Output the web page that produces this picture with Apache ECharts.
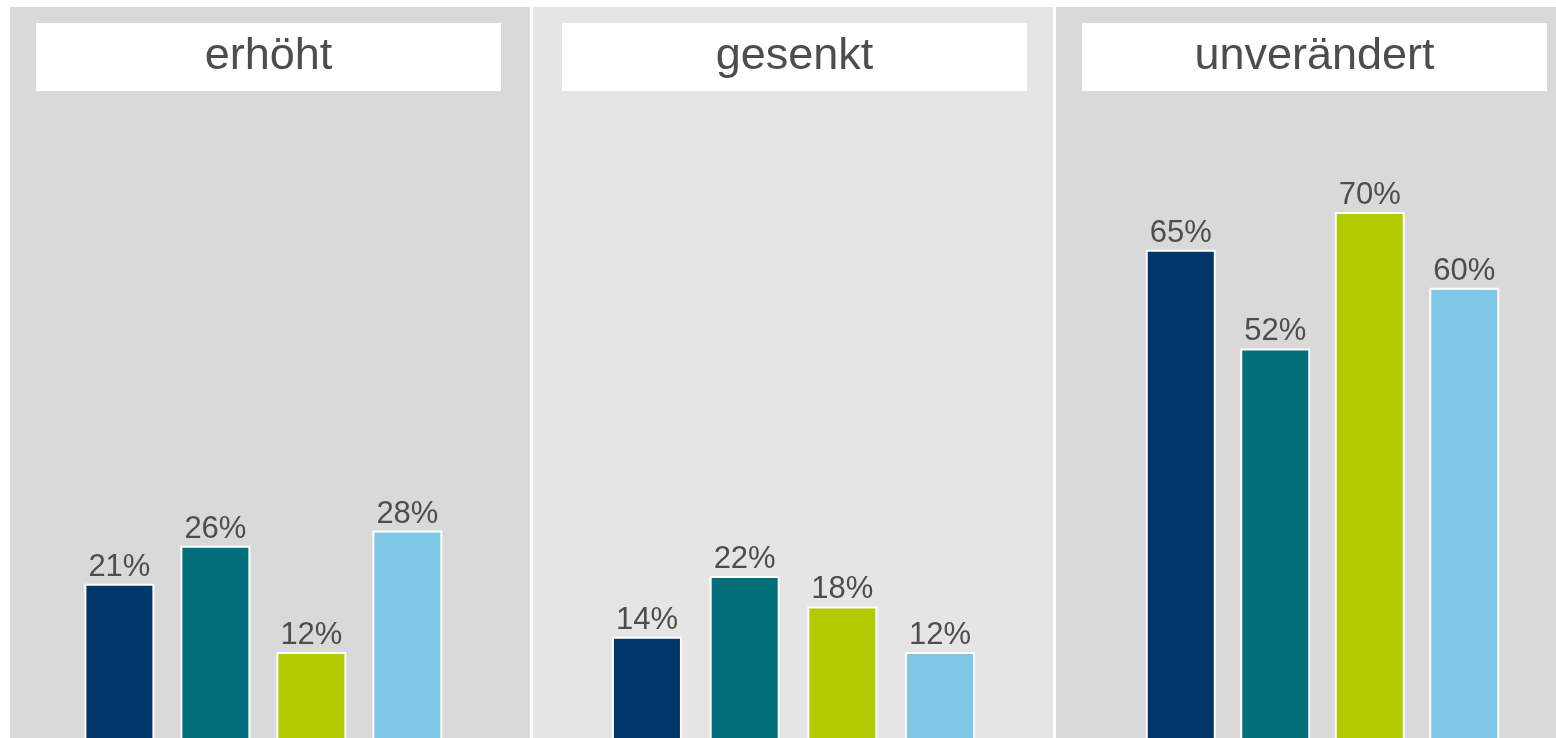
<!DOCTYPE html>
<html>
<head>
<meta charset="utf-8">
<script src="https://cdn.jsdelivr.net/npm/echarts@6/dist/echarts.min.js"></script>
<style>
  html, body { margin: 0; padding: 0; background: #ffffff; }
  #chart { width: 1556px; height: 738px; }
</style>
</head>
<body>
<div id="chart"></div>
<script>
// Panel titles (one panel per category)
const categories = ['erhöht', 'gesenkt', 'unverändert'];
// Four groups, values per category (percent)
const group1 = [21, 14, 65];
const group2 = [26, 22, 52];
const group3 = [12, 18, 70];
const group4 = [28, 12, 60];
const groupColors = ['#01366a', '#006f7a', '#b3c900', '#7ec8e6'];

const groups = [group1, group2, group3, group4];

// layout (pixels)
const panels = [
  { x: 10, w: 520, bg: '#d9d9d9', titleOff: 26, gridLeft: 71.4, gridWidth: 384 },
  { x: 533, w: 520, bg: '#e5e5e5', titleOff: 29, gridLeft: 598.1, gridWidth: 390.8 },
  { x: 1056, w: 520, bg: '#d9d9d9', titleOff: 26, gridLeft: 1133.5, gridWidth: 378 }
];
const fontFam = '"Liberation Sans", Arial, Helvetica, sans-serif';
const textColor = '#4d4d4d';

const grids = [], xAxes = [], yAxes = [], series = [], graphics = [];

categories.forEach((cat, i) => {
  const p = panels[i];
  graphics.push({
    type: 'rect', z: -20, silent: true,
    shape: { x: p.x, y: 7, width: p.w, height: 740 },
    style: { fill: p.bg }
  });
  graphics.push({
    type: 'rect', z: -10, silent: true,
    shape: { x: p.x + p.titleOff, y: 23, width: 465, height: 68 },
    style: { fill: '#ffffff' }
  });
  graphics.push({
    type: 'text', z: -5, silent: true,
    x: p.x + p.titleOff + 232.5, y: 57,
    style: {
      text: cat, fill: textColor, font: '45px ' + fontFam,
      textAlign: 'center', textVerticalAlign: 'middle'
    }
  });

  grids.push({
    left: p.gridLeft, width: p.gridWidth, top: 136, height: 607,
    outerBoundsMode: 'none', containLabel: false
  });
  xAxes.push({
    type: 'category', gridIndex: i, data: ['1', '2', '3', '4'],
    show: false, axisLine: { show: false }, axisTick: { show: false }
  });
  yAxes.push({
    type: 'value', gridIndex: i, min: 0, max: 80, show: false,
    splitLine: { show: false }
  });
  series.push({
    type: 'bar', xAxisIndex: i, yAxisIndex: i,
    barWidth: 70,
    clip: false,
    data: groups.map((g, k) => ({
      value: g[i],
      itemStyle: { color: groupColors[k] }
    })),
    itemStyle: { borderColor: '#ffffff', borderWidth: 2 },
    label: {
      show: true, position: 'top', distance: 1,
      formatter: '{c}%', color: textColor,
      fontSize: 31, fontFamily: fontFam
    },
    emphasis: { disabled: true },
    animation: false
  });
});

const chart = echarts.init(document.getElementById('chart'), null, { renderer: 'canvas' });
chart.setOption({
  backgroundColor: '#ffffff',
  animation: false,
  graphic: graphics,
  grid: grids,
  xAxis: xAxes,
  yAxis: yAxes,
  series: series
});
</script>
</body>
</html>
